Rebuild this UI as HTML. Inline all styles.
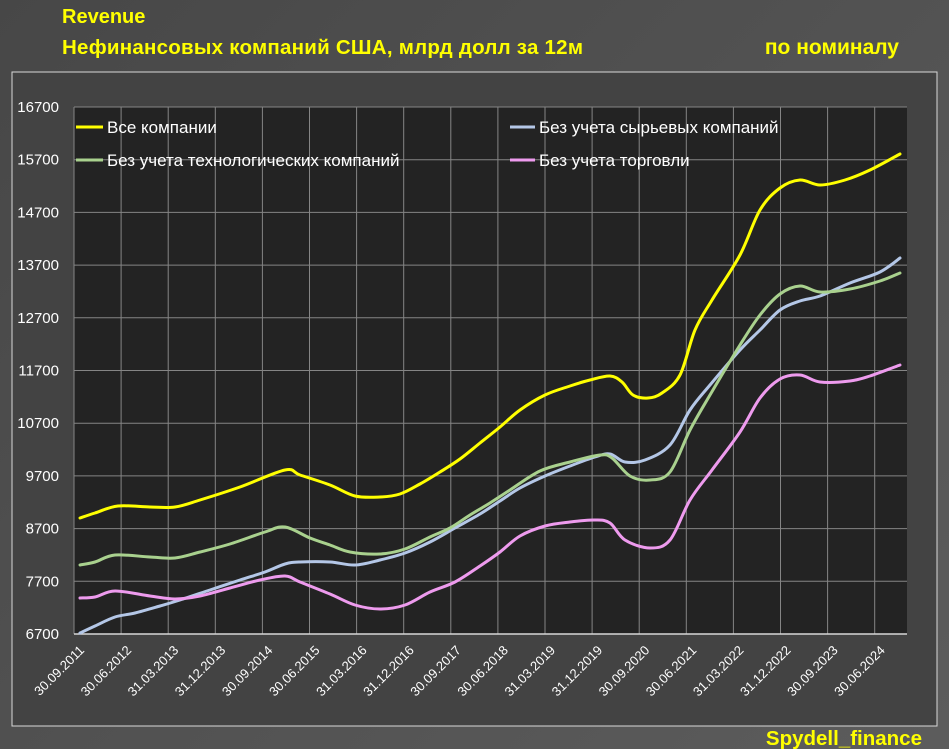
<!DOCTYPE html>
<html><head><meta charset="utf-8"><style>
body{margin:0;width:949px;height:749px;overflow:hidden;background:linear-gradient(135deg,#474747,#5c5c5c);font-family:"Liberation Sans","DejaVu Sans",sans-serif;}
</style></head><body>
<svg width="949" height="749" xmlns="http://www.w3.org/2000/svg" style="position:absolute;left:0;top:0">
<text x="62" y="23" fill="#ffff00" font-weight="bold" font-size="20" font-family="Liberation Sans, sans-serif">Revenue</text>
<text x="62" y="54" fill="#ffff00" font-weight="bold" font-size="20.5" textLength="521" font-family="Liberation Sans, sans-serif">Нефинансовых компаний США, млрд долл за 12м</text>
<text x="899" y="54" fill="#ffff00" font-weight="bold" font-size="21" text-anchor="end" font-family="Liberation Sans, sans-serif">по номиналу</text>
<rect x="12" y="72" width="925" height="654" fill="#434343" stroke="#d8d8d8" stroke-width="1"/>
<rect x="74" y="107" width="833" height="527" fill="#232323"/>
<g id="grid" stroke="#858585" stroke-width="1"></g>
<g id="ylab" fill="#ffffff" font-size="15" font-family="Liberation Sans, sans-serif" text-anchor="end"></g>
<g id="xlab" fill="#ffffff" font-size="13" font-family="Liberation Sans, sans-serif" text-anchor="end"></g>
<line x1="74" y1="634" x2="907" y2="634" stroke="#d8d8d8" stroke-width="1.5"/>
<g id="series" fill="none" stroke-width="3" stroke-linecap="round"></g>
<g font-size="17" fill="#ffffff" font-family="Liberation Sans, sans-serif">
<line x1="76" y1="127" x2="103" y2="127" stroke="#ffff00" stroke-width="3"/>
<text x="107" y="133">Все компании</text>
<line x1="76" y1="160" x2="103" y2="160" stroke="#a9d18e" stroke-width="3"/>
<text x="107" y="166">Без учета технологических компаний</text>
<line x1="510" y1="127" x2="535" y2="127" stroke="#b4c7e7" stroke-width="3"/>
<text x="539" y="133">Без учета сырьевых компаний</text>
<line x1="510" y1="160" x2="535" y2="160" stroke="#ee9bee" stroke-width="3"/>
<text x="539" y="166">Без учета торговли</text>
</g>
<text x="922" y="745" fill="#ffff00" font-weight="bold" font-size="20.5" text-anchor="end" font-family="Liberation Sans, sans-serif">Spydell_finance</text>
</svg>
<script>
var ns="http://www.w3.org/2000/svg";
function el(p,t,a,txt){var e=document.createElementNS(ns,t);for(var k in a)e.setAttribute(k,a[k]);if(txt)e.textContent=txt;document.getElementById(p).appendChild(e);}
for(var i=0;i<=10;i++){var y=634-i*52.7;if(i>0)el("grid","line",{x1:74,x2:907,y1:y,y2:y});el("ylab","text",{x:59,y:y+5},String(6700+i*1000));}
var labs=["30.09.2011","30.06.2012","31.03.2013","31.12.2013","30.09.2014","30.06.2015","31.03.2016","31.12.2016","30.09.2017","30.06.2018","31.03.2019","31.12.2019","30.09.2020","30.06.2021","31.03.2022","31.12.2022","30.09.2023","30.06.2024"];
for(var i=0;i<18;i++){var x=74+i*47.1;el("grid","line",{x1:x,x2:x,y1:107,y2:634});if(i<labs.length)el("xlab","text",{x:x+11,y:651,transform:"rotate(-45 "+(x+11)+" 651)"},labs[i]);}
function path(pts){var d="M"+pts[0][0]+","+pts[0][1];for(var i=0;i<pts.length-1;i++){var p0=pts[Math.max(0,i-1)],p1=pts[i],p2=pts[i+1],p3=pts[Math.min(pts.length-1,i+2)];var c1=[p1[0]+(p2[0]-p0[0])/6,p1[1]+(p2[1]-p0[1])/6],c2=[p2[0]-(p3[0]-p1[0])/6,p2[1]-(p3[1]-p1[1])/6];d+=" C"+c1+" "+c2+" "+p2;}return d;}
function P(a){var r=[];for(var i=0;i<a.length;i+=2)r.push([a[i],a[i+1]]);return r;}
var S=[
["#b4c7e7",P([80,633,95,626,115,617,135,613,160,606,180,600,210,590,240,580,265,572,285,564,300,562,330,562,355,565,380,560,405,553,430,542,455,528,480,514,500,501,520,488,545,476,570,466,595,457,610,454,625,462,645,460,670,445,690,410,710,385,740,350,760,330,780,310,800,301,820,296,850,283,880,272,900,258])],
["#a9d18e",P([80,565,95,562,115,555,150,557,175,558,200,552,230,544,265,532,285,527,310,538,330,545,350,552,380,554,405,549,430,537,450,528,470,515,490,503,510,490,540,471,570,462,600,455,612,458,630,476,650,480,670,472,690,430,710,395,740,345,760,315,780,294,800,286,820,292,850,289,880,281,900,273])],
["#ee9bee",P([80,598,95,597,115,591,150,596,175,599,200,596,230,588,260,580,285,576,300,582,330,594,355,605,380,609,405,605,430,592,455,582,480,566,500,552,520,536,545,526,570,522,595,520,610,523,625,540,650,548,670,540,690,500,712,470,740,432,760,398,780,379,800,375,820,382,850,381,870,376,900,365])],
["#ffff00",P([80,518,95,513,118,506,150,507,175,507,200,500,240,487,285,470,300,475,330,485,355,496,380,497,400,494,420,484,440,472,460,459,480,443,500,427,520,410,545,395,570,386,590,380,610,376,622,382,633,395,648,398,662,393,680,375,695,330,712,300,740,255,760,210,780,188,800,180,820,185,845,180,870,170,900,154])]
];
S.forEach(function(s){el("series","path",{d:path(s[1]),stroke:s[0]});});
</script>
</body></html>
